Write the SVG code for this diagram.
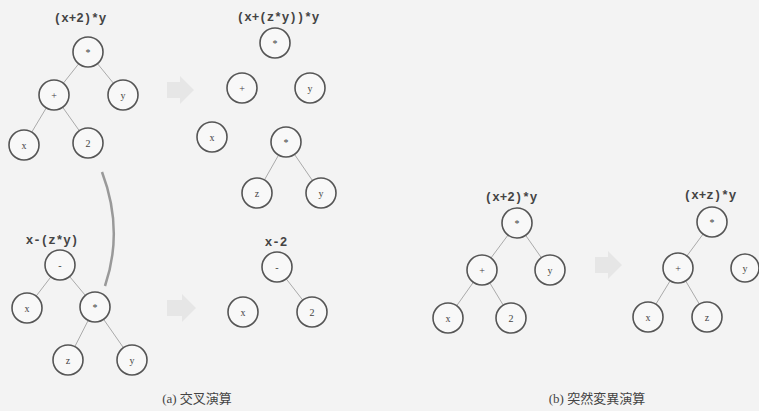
<svg xmlns="http://www.w3.org/2000/svg" width="759" height="411" viewBox="0 0 759 411">
<style>
.n circle{fill:#f8f8f8;stroke:#555;stroke-width:1.6}
.n text{font-family:"Liberation Serif",serif;font-size:10px;fill:#444;text-anchor:middle;dominant-baseline:central}
.lbl{font-family:"Liberation Mono",monospace;font-size:12.5px;font-weight:bold;fill:#444;text-anchor:middle}
.cap{font-family:"Liberation Serif","Noto Sans CJK JP",serif;font-size:13px;fill:#444;text-anchor:middle}
#edges line{stroke:#aaa;stroke-width:1}
.blk{fill:#d8d8d8;opacity:0.45}
</style>
<rect width="759" height="411" fill="#f3f3f3"/>
<g id="blockarrows">
<path class="blk" d="M167,82 H180 V76 L194,90 L180,104 V98 H167 Z"/>
<path class="blk" d="M167,300 H182 V294 L196,308 L182,322 V316 H167 Z"/>
<path class="blk" d="M595,257 H608 V251 L622,265 L608,279 V273 H595 Z"/>
</g>
<path id="swap" d="M102,172 Q124,230 105,286" fill="none" stroke="#999" stroke-width="2.5"/>
<g id="edges">
<line x1="88" y1="52" x2="54" y2="95"/><line x1="88" y1="52" x2="123" y2="95"/>
<line x1="54" y1="95" x2="24" y2="145"/><line x1="54" y1="95" x2="88" y2="143"/>
<line x1="286" y1="142" x2="257" y2="193"/><line x1="286" y1="142" x2="321" y2="193"/>
<line x1="60" y1="265" x2="27" y2="308"/><line x1="60" y1="265" x2="95" y2="307"/>
<line x1="95" y1="307" x2="68" y2="360"/><line x1="95" y1="307" x2="132" y2="360"/>
<line x1="277" y1="267" x2="312" y2="312"/>
<line x1="517" y1="223" x2="482" y2="270"/><line x1="517" y1="223" x2="550" y2="270"/>
<line x1="482" y1="270" x2="448" y2="318"/><line x1="482" y1="270" x2="511" y2="318"/>
<line x1="712" y1="222" x2="678" y2="268"/>
<line x1="678" y1="268" x2="648" y2="317"/><line x1="678" y1="268" x2="707" y2="317"/>
</g>
<text class="lbl" x="80" y="22">(x+2)*y</text>
<text class="lbl" x="278" y="21">(x+(z*y))*y</text>
<text class="lbl" x="52" y="244">x-(z*y)</text>
<text class="lbl" x="276" y="246">x-2</text>
<text class="lbl" x="511" y="201">(x+2)*y</text>
<text class="lbl" x="710" y="199">(x+z)*y</text>
<g id="t1-root" class="n"><circle cx="88" cy="52" r="15"/><text x="88" y="52">*</text></g>
<g id="t1-plus" class="n"><circle cx="54" cy="95" r="15"/><text x="54" y="95">+</text></g>
<g id="t1-y" class="n"><circle cx="123" cy="95" r="15"/><text x="123" y="95">y</text></g>
<g id="t1-x" class="n"><circle cx="24" cy="145" r="15"/><text x="24" y="145">x</text></g>
<g id="t1-2" class="n"><circle cx="88" cy="143" r="15"/><text x="88" y="143">2</text></g>
<g id="t2-root" class="n"><circle cx="275" cy="43" r="15"/><text x="275" y="43">*</text></g>
<g id="t2-plus" class="n"><circle cx="242" cy="88" r="15"/><text x="242" y="88">+</text></g>
<g id="t2-y" class="n"><circle cx="310" cy="88" r="15"/><text x="310" y="88">y</text></g>
<g id="t2-x" class="n"><circle cx="212" cy="137" r="15"/><text x="212" y="137">x</text></g>
<g id="t2-mul" class="n"><circle cx="286" cy="142" r="15"/><text x="286" y="142">*</text></g>
<g id="t2-z" class="n"><circle cx="257" cy="193" r="15"/><text x="257" y="193">z</text></g>
<g id="t2-y2" class="n"><circle cx="321" cy="193" r="15"/><text x="321" y="193">y</text></g>
<g id="t3-root" class="n"><circle cx="60" cy="265" r="15"/><text x="60" y="265">-</text></g>
<g id="t3-x" class="n"><circle cx="27" cy="308" r="15"/><text x="27" y="308">x</text></g>
<g id="t3-mul" class="n"><circle cx="95" cy="307" r="15"/><text x="95" y="307">*</text></g>
<g id="t3-z" class="n"><circle cx="68" cy="360" r="15"/><text x="68" y="360">z</text></g>
<g id="t3-y" class="n"><circle cx="132" cy="360" r="15"/><text x="132" y="360">y</text></g>
<g id="t4-root" class="n"><circle cx="277" cy="267" r="15"/><text x="277" y="267">-</text></g>
<g id="t4-x" class="n"><circle cx="243" cy="312" r="15"/><text x="243" y="312">x</text></g>
<g id="t4-2" class="n"><circle cx="312" cy="312" r="15"/><text x="312" y="312">2</text></g>
<g id="t5-root" class="n"><circle cx="517" cy="223" r="15"/><text x="517" y="223">*</text></g>
<g id="t5-plus" class="n"><circle cx="482" cy="270" r="15"/><text x="482" y="270">+</text></g>
<g id="t5-y" class="n"><circle cx="550" cy="270" r="15"/><text x="550" y="270">y</text></g>
<g id="t5-x" class="n"><circle cx="448" cy="318" r="15"/><text x="448" y="318">x</text></g>
<g id="t5-2" class="n"><circle cx="511" cy="318" r="15"/><text x="511" y="318">2</text></g>
<g id="t6-root" class="n"><circle cx="712" cy="222" r="15"/><text x="712" y="222">*</text></g>
<g id="t6-plus" class="n"><circle cx="678" cy="268" r="15"/><text x="678" y="268">+</text></g>
<g id="t6-y" class="n"><circle cx="745" cy="268" r="14"/><text x="745" y="268">y</text></g>
<g id="t6-x" class="n"><circle cx="648" cy="317" r="15"/><text x="648" y="317">x</text></g>
<g id="t6-z" class="n"><circle cx="707" cy="317" r="15"/><text x="707" y="317">z</text></g>
<text class="cap" x="197" y="403">(a) 交叉演算</text>
<text class="cap" x="597" y="403">(b) 突然変異演算</text>
</svg>
